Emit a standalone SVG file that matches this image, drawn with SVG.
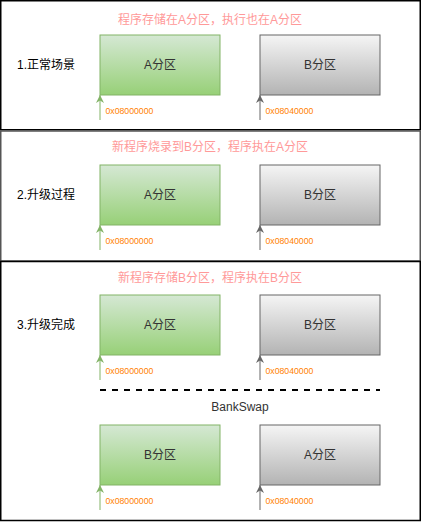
<svg xmlns="http://www.w3.org/2000/svg" width="421" height="522" viewBox="0 0 421 522">
<defs>
<linearGradient id="gG" x1="0" y1="0" x2="0" y2="1"><stop offset="0" stop-color="#d5e8d4"/><stop offset="1" stop-color="#97d077"/></linearGradient>
<linearGradient id="gR" x1="0" y1="0" x2="0" y2="1"><stop offset="0" stop-color="#f5f5f5"/><stop offset="1" stop-color="#b3b3b3"/></linearGradient>
<marker id="mG" viewBox="0 0 10 10" refX="10" refY="5" markerWidth="8" markerHeight="8" markerUnits="userSpaceOnUse" orient="auto"><path d="M0,0 L10,5 L0,10 L3,5 Z" fill="#82b366"/></marker>
<marker id="mR" viewBox="0 0 10 10" refX="10" refY="5" markerWidth="8" markerHeight="8" markerUnits="userSpaceOnUse" orient="auto"><path d="M0,0 L10,5 L0,10 L3,5 Z" fill="#666666"/></marker>
</defs>
<style>
text{font-family:"Liberation Sans","Noto Sans CJK SC",sans-serif;}
.sec{fill:#ffffff;stroke:#000000;stroke-width:1.5;}
.title{font-size:12px;fill:#ff9999;text-anchor:middle;}
.lab{font-size:12px;fill:#000000;}
.g{fill:url(#gG);stroke:#82b366;stroke-width:1;}
.r{fill:url(#gR);stroke:#666666;stroke-width:1;}
.bt{font-size:12px;fill:#333333;text-anchor:middle;}
.addr{font-size:8.7px;fill:#ff8000;}
.ag{stroke:#82b366;stroke-width:1;fill:none;marker-end:url(#mG);}
.ar{stroke:#666666;stroke-width:1;fill:none;marker-end:url(#mR);}
</style>
<g id="section1">
<rect class="sec" x="0.75" y="0.75" width="419.5" height="129"/>
<text class="title" x="210" y="24">程序存储在A分区，执行也在A分区</text>
<text class="lab" x="17" y="69">1.正常场景</text>
</g>
<g id="section2">
<rect class="sec" x="0.75" y="131" width="419.5" height="130" style="stroke:#555555"/>
<text class="title" x="210" y="151">新程序烧录到B分区，程序执在A分区</text>
<text class="lab" x="17" y="199">2.升级过程</text>
</g>
<g id="section3">
<rect class="sec" x="0.75" y="261.5" width="419.5" height="259"/>
<text class="title" x="210" y="282">新程序存储B分区，程序执在B分区</text>
<text class="lab" x="17" y="329">3.升级完成</text>
<line x1="100" y1="390" x2="380" y2="390" stroke="#000000" stroke-width="2" stroke-dasharray="6 6"/>
<text x="240" y="411" style="font-size:12px;fill:#333333;text-anchor:middle">BankSwap</text>
</g>
<g id="s1A"><rect class="g" x="100" y="35" width="120" height="60"/><text class="bt" x="160" y="69">A分区</text></g>
<g id="s1B"><rect class="r" x="260" y="35" width="120" height="60"/><text class="bt" x="320" y="69">B分区</text></g>
<g id="s2A"><rect class="g" x="100" y="165" width="120" height="60"/><text class="bt" x="160" y="199">A分区</text></g>
<g id="s2B"><rect class="r" x="260" y="165" width="120" height="60"/><text class="bt" x="320" y="199">B分区</text></g>
<g id="s3A"><rect class="g" x="100" y="295" width="120" height="60"/><text class="bt" x="160" y="329">A分区</text></g>
<g id="s3B"><rect class="r" x="260" y="295" width="120" height="60"/><text class="bt" x="320" y="329">B分区</text></g>
<g id="s4B"><rect class="g" x="100" y="425" width="120" height="60"/><text class="bt" x="160" y="459">B分区</text></g>
<g id="s4A"><rect class="r" x="260" y="425" width="120" height="60"/><text class="bt" x="320" y="459">A分区</text></g>
<g id="connectors">
<line class="ag" x1="100" y1="120" x2="100" y2="95"/>
<line class="ar" x1="260" y1="120" x2="260" y2="95"/>
<line class="ag" x1="100" y1="250" x2="100" y2="225"/>
<line class="ar" x1="260" y1="250" x2="260" y2="225"/>
<line class="ag" x1="100" y1="380" x2="100" y2="355"/>
<line class="ar" x1="260" y1="380" x2="260" y2="355"/>
<line class="ag" x1="100" y1="510" x2="100" y2="485"/>
<line class="ar" x1="260" y1="510" x2="260" y2="485"/>
</g>
<g id="addresses">
<text class="addr" x="105.5" y="114">0x08000000</text>
<text class="addr" x="265.5" y="114">0x08040000</text>
<text class="addr" x="105.5" y="244">0x08000000</text>
<text class="addr" x="265.5" y="244">0x08040000</text>
<text class="addr" x="105.5" y="374">0x08000000</text>
<text class="addr" x="265.5" y="374">0x08040000</text>
<text class="addr" x="105.5" y="504">0x08000000</text>
<text class="addr" x="265.5" y="504">0x08040000</text>
</g>
</svg>
